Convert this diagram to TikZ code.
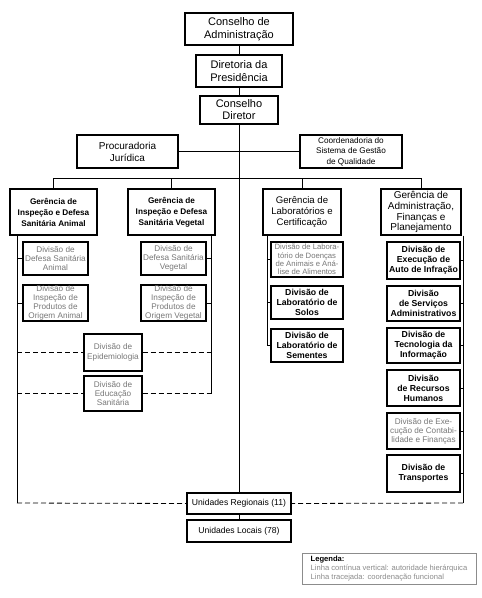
\documentclass[tikz,border=0pt]{standalone}
\usepackage{fontspec}
\setmainfont{Liberation Sans}
\definecolor{divgray}{RGB}{120,120,120}
\definecolor{lgdgray}{RGB}{140,140,140}
\begin{document}
\begin{tikzpicture}[x=1pt,y=-1pt,
  box/.style={draw, line width=1.1pt, inner sep=0pt, align=center, text=black},
  gtxt/.style={text=divgray, font=\fontsize{8.2}{9}\selectfont},
  btxt/.style={font=\bfseries\fontsize{8.7}{10}\selectfont},
  conn/.style={line width=0.8pt},
  dconn/.style={line width=0.8pt, dash pattern=on 5pt off 3pt}]
\useasboundingbox[fill=white] (0,0) rectangle (482,598);
% top
\node[box, minimum width=108, minimum height=32, font=\fontsize{11}{12.5}\selectfont] (ca) at (239,29) {Conselho de\\Administração};
\node[box, minimum width=86, minimum height=32, font=\fontsize{11}{12.5}\selectfont] (dp) at (239,71) {Diretoria da\\Presidência};
\node[box, minimum width=78, minimum height=28, font=\fontsize{11}{12}\selectfont] (cd) at (239,110) {Conselho\\Diretor};
\node[box, minimum width=101, minimum height=33, font=\fontsize{10}{12}\selectfont] (proc) at (127.5,151.5) {Procuradoria\\Jurídica};
\node[box, minimum width=102, minimum height=33, font=\fontsize{8.2}{10.5}\selectfont] (coord) at (351,151.5) {Coordenadoria do\\Sistema de Gestão\\de Qualidade};
% gerencias
\node[box, minimum width=87, minimum height=46, font=\bfseries\fontsize{8.2}{11}\selectfont] (gA) at (53.5,212) {Gerência de\\Inspeção e Defesa\\Sanitária Animal};
\node[box, minimum width=87, minimum height=46, font=\bfseries\fontsize{8.2}{11}\selectfont] (gV) at (171.5,212) {Gerência de\\Inspeção e Defesa\\Sanitária Vegetal};
\node[box, minimum width=78, minimum height=46, font=\fontsize{9.6}{11.3}\selectfont] (gL) at (302,212) {Gerência de\\Laboratórios e\\Certificação};
\node[box, minimum width=80, minimum height=46, font=\fontsize{10}{10.8}\selectfont] (gF) at (421,212) {Gerência de\\Administração,\\Finanças e\\Planejamento};
% animal
\node[box, gtxt, minimum width=65, minimum height=33] (dA1) at (55.5,258.5) {Divisão de\\Defesa Sanitária\\Animal};
\node[box, gtxt, minimum width=65, minimum height=36] (dA2) at (55.5,303) {Divisão de\\Inspeção de\\Produtos de\\Origem Animal};
% vegetal
\node[box, gtxt, minimum width=65, minimum height=33] (dV1) at (173.5,258.5) {Divisão de\\Defesa Sanitária\\Vegetal};
\node[box, gtxt, minimum width=65, minimum height=36] (dV2) at (173.5,303) {Divisão de\\Inspeção de\\Produtos de\\Origem Vegetal};
% shared
\node[box, gtxt, minimum width=58, minimum height=37, font=\fontsize{8.2}{9.5}\selectfont] (epi) at (113,352.5) {Divisão de\\Epidemiologia};
\node[box, gtxt, minimum width=58, minimum height=35, font=\fontsize{8.2}{9.3}\selectfont] (edu) at (113,393.5) {Divisão de\\Educação\\Sanitária};
% labs
\node[box, gtxt, minimum width=72, minimum height=35, font=\fontsize{7.7}{8.4}\selectfont] (dL1) at (307,259.5) {Divisão de Labora-\\tório de Doenças\\de Animais e Aná-\\lise de Alimentos};
\node[box, btxt, minimum width=72, minimum height=33] (dL2) at (307,302.5) {Divisão de\\Laboratório de\\Solos};
\node[box, btxt, minimum width=72, minimum height=33] (dL3) at (307,345.5) {Divisão de\\Laboratório de\\Sementes};
% administracao
\node[box, btxt, minimum width=73, minimum height=37] (dF1) at (423.5,260.5) {Divisão de\\Execução de\\Auto de Infração};
\node[box, btxt, minimum width=73, minimum height=35] (dF2) at (423.5,303.5) {Divisão\\de Serviços\\Administrativos};
\node[box, btxt, minimum width=73, minimum height=35] (dF3) at (423.5,345.5) {Divisão de\\Tecnologia da\\Informação};
\node[box, btxt, minimum width=73, minimum height=36] (dF4) at (423.5,388) {Divisão\\de Recursos\\Humanos};
\node[box, gtxt, minimum width=73, minimum height=36] (dF5) at (423.5,431) {Divisão de Exe-\\cução de Contabi-\\lidade e Finanças};
\node[box, btxt, minimum width=73, minimum height=37] (dF6) at (423.5,473.5) {Divisão de\\Transportes};
% unidades
\node[box, minimum width=104, minimum height=21, font=\fontsize{8.6}{10}\selectfont] (ur) at (239,503.5) {Unidades Regionais (11)};
\node[box, minimum width=104, minimum height=22, font=\fontsize{8.6}{10}\selectfont] (ul) at (239,531) {Unidades Locais (78)};
% legend
\node[draw=lgdgray, line width=0.7pt, minimum width=174, minimum height=31, inner sep=2pt, align=left, font=\fontsize{7.6}{9.4}\selectfont] (lg) at (389,568.5) {\textbf{Legenda:}\\\textcolor{lgdgray}{Linha contínua vertical: autoridade hierárquica}\\\textcolor{lgdgray}{Linha tracejada: coordenação funcional}};
% coordinates
\coordinate (bus) at (239,178);
\coordinate (aL) at (17,503);
\coordinate (vR) at (211,393.5);
\coordinate (lL) at (267,345.5);
\coordinate (fR) at (463,503);
% main line
\draw[conn] (ca.south) -- (dp.north);
\draw[conn] (dp.south) -- (cd.north);
\draw[conn] (cd.south) -- (ur.north);
\draw[conn] (proc.east) -- (coord.west);
\draw[conn] (ur.south) -- (ul.north);
% bus
\draw[conn] (gA.north) -- (gA.north |- bus) -- (gF.north |- bus) -- (gF.north);
\draw[conn] (gV.north) -- (gV.north |- bus);
\draw[conn] (gL.north) -- (gL.north |- bus);
% animal branch
\draw[conn] (gA.south -| aL) -- (aL);
\draw[conn] (dA1.west) -- (dA1.west -| aL);
\draw[conn] (dA2.west) -- (dA2.west -| aL);
\draw[dconn] (aL) -- (ur.west);
\draw[dconn] (epi.west -| aL) -- (epi.west);
\draw[dconn] (edu.west -| aL) -- (edu.west);
% vegetal branch
\draw[conn] (gV.south -| vR) -- (vR);
\draw[conn] (dV1.east) -- (dV1.east -| vR);
\draw[conn] (dV2.east) -- (dV2.east -| vR);
\draw[dconn] (epi.east) -- (epi.east -| vR);
\draw[dconn] (edu.east) -- (vR);
% labs branch
\draw[conn] (gL.south -| lL) -- (lL) -- (dL3.west);
\draw[conn] (dL1.west) -- (dL1.west -| lL);
\draw[conn] (dL2.west) -- (dL2.west -| lL);
% adm branch
\draw[conn] (gF.south -| fR) -- (fR);
\foreach \n in {dF1,dF2,dF3,dF4,dF5,dF6}
  \draw[conn] (\n.east) -- (\n.east -| fR);
\draw[dconn] (fR) -- (ur.east);
\end{tikzpicture}
\end{document}
